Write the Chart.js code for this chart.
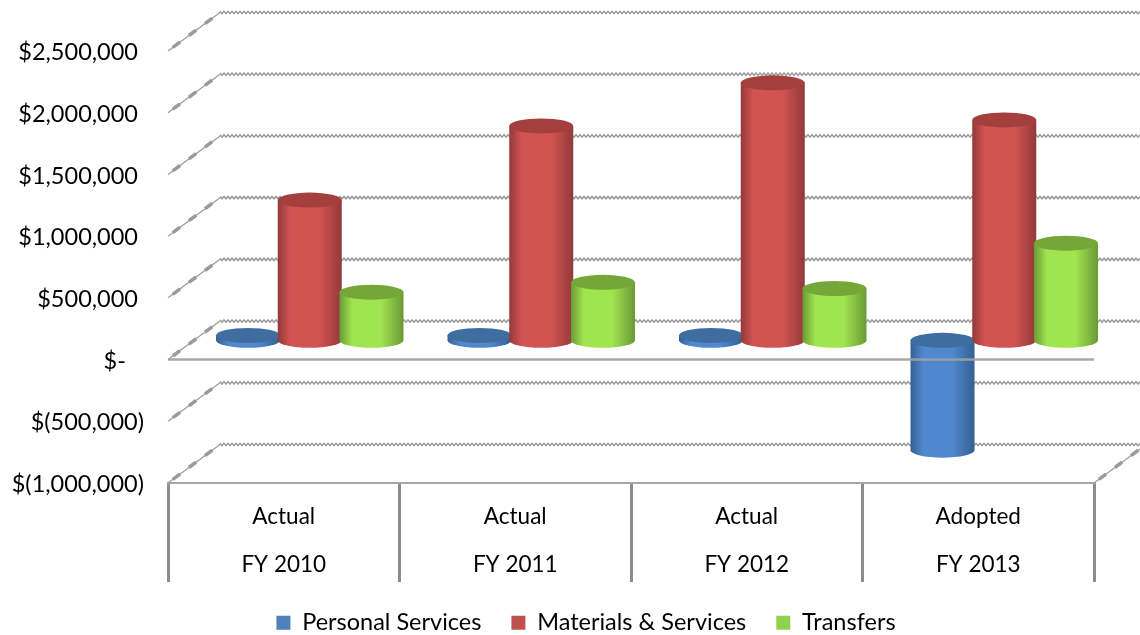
<!DOCTYPE html>
<html><head><meta charset="utf-8">
<style>html,body{margin:0;padding:0;background:#fff}#w{width:1140px;height:635px;position:relative}</style>
<script src="https://cdn.jsdelivr.net/npm/chart.js@4"></script>
</head><body><div id="w"><canvas id="c" width="1140" height="635"></canvas></div>
<script>
const categories = [["Actual","FY 2010"],["Actual","FY 2011"],["Actual","FY 2012"],["Adopted","FY 2013"]];
const personalServices = [40000, 40000, 40000, -890000];
const materialsServices = [1136000, 1737000, 2086000, 1786000];
const transfers = [390000, 470000, 420000, 787000];
const yTickLabels = ["$(1,000,000)","$(500,000)","$-   ","$500,000 ","$1,000,000 ","$1,500,000 ","$2,000,000 ","$2,500,000 "];

const shades = {
  "#4F81BD": {edge:"#345f91", mid:"#5088cf", top:"#3f6d9f"},
  "#C0504D": {edge:"#94393a", mid:"#d25452", top:"#a53f3d"},
  "#92D050": {edge:"#6a9a35", mid:"#a0e450", top:"#74a638"}
};
const DX = 52, DY = -38.5, RY = 7.5, GRID = "#a0a0a0";

function zigzag(ctx, x0, x1, y){
  ctx.save(); ctx.strokeStyle = "#9a9a9a"; ctx.lineWidth = 1.5; ctx.beginPath();
  let up = true;
  for (let x = x0; x <= x1; x += 2){ ctx.lineTo(x, y + (up ? -1.2 : 1.2)); up = !up; }
  ctx.stroke(); ctx.restore();
}
function diagonal(ctx, x0, y0, x1, y1){
  ctx.save(); ctx.strokeStyle = "#9a9a9a"; ctx.lineWidth = 1.2;
  ctx.beginPath(); ctx.moveTo(x0,y0); ctx.lineTo(x1,y1); ctx.stroke();
  ctx.lineWidth = 3.5; ctx.setLineDash([9,11]); ctx.lineDashOffset = -6;
  ctx.beginPath(); ctx.moveTo(x0,y0); ctx.lineTo(x1,y1); ctx.stroke();
  ctx.restore();
}
function cylinder(ctx, cx, yFrom, yTo, rx, s){
  const g = ctx.createLinearGradient(cx-rx,0,cx+rx,0);
  g.addColorStop(0,s.edge); g.addColorStop(0.2,s.mid); g.addColorStop(0.65,s.mid); g.addColorStop(1,s.edge);
  ctx.fillStyle = g;
  ctx.beginPath();
  ctx.moveTo(cx-rx,yFrom);
  ctx.lineTo(cx-rx,yTo);
  ctx.ellipse(cx,yTo,rx,RY,0,Math.PI,0,true);
  ctx.lineTo(cx+rx,yFrom);
  ctx.closePath(); ctx.fill();
  ctx.fillStyle = s.top;
  ctx.beginPath(); ctx.ellipse(cx,yFrom,rx,RY,0,0,Math.PI*2); ctx.fill();
}
const wall = {
  id:"wall",
  afterLayout(chart){
    chart.legend.left += 39; chart.legend.right += 39;
    const s = chart.scales.y;
    if (!s._nudged){
      s._nudged = true;
      const orig = s.drawLabels;
      s.drawLabels = function(area){
        const c = this.ctx; c.save(); c.translate(0,1.5); orig.call(this, area); c.restore();
      };
    }
  },
  beforeDatasetsDraw(chart){
    const {ctx, chartArea:a, scales:{y}} = chart;
    y.ticks.forEach(t=>{
      const p = y.getPixelForValue(t.value);
      zigzag(ctx, a.left+DX, chart.width, p+DY);
      diagonal(ctx, a.left, p, a.left+DX, p+DY);
    });
    const yb = y.getPixelForValue(y.min);
    diagonal(ctx, a.right, yb, chart.width, yb+DY*(chart.width-a.right)/DX);
    chart.data.datasets.forEach((d,i)=>{
      chart.getDatasetMeta(i).data.forEach(b=>{
        const top = Math.min(b.y,b.base)+DY/2, bot = Math.max(b.y,b.base)+DY/2;
        cylinder(ctx, b.x+DX/2, top, bot, 32, shades[d.backgroundColor]);
      });
    });
    const y0 = y.getPixelForValue(0);
    ctx.save(); ctx.strokeStyle = GRID; ctx.globalAlpha = .9; ctx.lineWidth = 2.5;
    ctx.beginPath(); ctx.moveTo(a.left,y0); ctx.lineTo(a.right,y0); ctx.stroke(); ctx.restore();
    return false;
  }
};
const font = {family:"Lato", size:23.5};
new Chart(document.getElementById("c"),{
  type:"bar",
  plugins:[wall],
  data:{labels:categories, datasets:[
    {label:"Personal Services", data:personalServices, backgroundColor:"#4F81BD"},
    {label:"Materials & Services", data:materialsServices, backgroundColor:"#C0504D"},
    {label:"Transfers", data:transfers, backgroundColor:"#92D050"}
  ]},
  options:{
    responsive:false, animation:false,
    layout:{padding:{left:0, right:46, top:51, bottom:-9.5}},
    categoryPercentage:0.8, barPercentage:1,
    scales:{
      x:{
        grid:{offset:true, drawOnChartArea:false, drawTicks:true, tickLength:99, color:"#8c8c8c", lineWidth:3},
        border:{display:true, color:"#a6a6a6", width:2},
        ticks:{color:"#000", font:{family:"Lato", size:22.5, lineHeight:"48px"}, padding:-89, autoSkip:false, maxRotation:0},
        afterFit(s){ s.height = 98; }
      },
      y:{
        min:-1000000, max:2500000,
        grid:{display:false}, border:{display:false},
        ticks:{stepSize:500000, color:"#000", font, padding:16, callback:(v,i)=>yTickLabels[i]},
        afterFit(s){ s.width = 168; }
      }
    },
    plugins:{
      tooltip:{enabled:false},
      legend:{position:"bottom", labels:{boxWidth:14, boxHeight:14, padding:30, color:"#000", font}}
    }
  }
});
</script></body></html>
